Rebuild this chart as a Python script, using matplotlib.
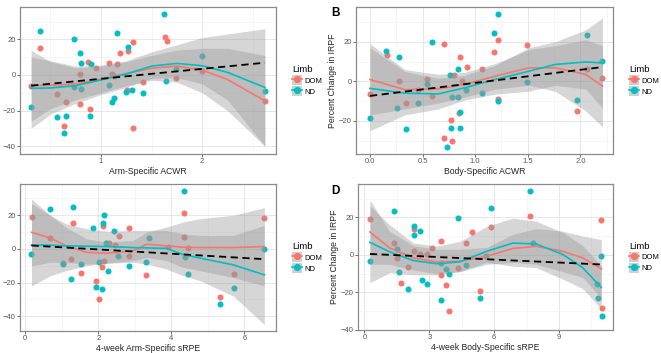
import matplotlib
matplotlib.use("Agg")
import matplotlib.pyplot as plt
from matplotlib.lines import Line2D
from matplotlib.patches import Patch
from matplotlib.ticker import FixedLocator

plt.rcParams["font.family"] = ["Liberation Sans", "DejaVu Sans"]

DOM_COLOR = "#F8766D"
ND_COLOR = "#00BFC4"
RIBBON = "#999999"

# ---- panel A: Arm-Specific ACWR ----
a_dom_x = [0.40, 1.63, 1.65, 1.32, 1.19, 1.27, 0.87, 0.95, 1.08, 1.16, 0.79, 1.11, 1.13,
           0.31, 0.57, 1.42, 1.74, 2.00, 1.26, 0.65, 0.79, 0.89, 0.63, 1.32, 2.62]
a_dom_y = [15.1, 21.3, 19.1, 18.5, 12.5, 13.7, 7.5, 3.7, 6.5, 6.4, 0.6, 0.5, -0.8,
           -6.0, -10.8, -4.1, -1.9, 2.2, -8.4, -15.3, -16.3, -19.1, -28.4, -29.9, -14.8]
a_nd_x = [1.62, 0.40, 0.73, 1.16, 0.79, 1.27, 0.90, 2.00, 1.74, 1.64, 1.08, 0.80, 1.31,
          1.25, 1.42, 1.13, 1.11, 0.31, 0.89, 0.65, 0.57, 0.63, 2.62, 0.73, 0.80]
a_nd_y = [34.2, 24.9, 20.2, 23.6, 12.5, 15.7, 6.2, 10.8, 3.4, -3.4, -5.6, -7.7, -8.2,
          -9.7, -10.3, -13.1, -15.3, -18.1, -23.2, -23.2, -23.7, -32.7, -9.2, -6.5, 6.8]
a_fx = [0.31, 0.5, 0.75, 1.0, 1.25, 1.5, 1.75, 2.0, 2.25, 2.62]
a_dom_fit = [-6.0, -5.8, -5.0, -2.3, 0.8, 3.8, 5.0, 2.8, -2.5, -14.5]
a_dom_lo = [-26, -19, -14, -10, -6, -3, -4, -10, -20, -40]
a_dom_hi = [14, 7.5, 4, 5, 7.5, 11, 14, 15, 15, 11]
a_nd_fit = [-7.5, -7.3, -6.0, -2.8, 0.5, 5.0, 6.5, 5.2, 1.5, -7.0]
a_nd_lo = [-30, -22, -16, -11, -7, -2, -1.5, -5, -14, -40]
a_nd_hi = [10, 8, 5, 5.5, 8, 13, 17, 21, 23, 26]
a_lin_x = [0.31, 2.62]
a_lin_y = [-6.0, 6.9]

# ---- panel B: Body-Specific ACWR ----
b_dom_x = [1.22, 0.70, 1.49, 1.18, 0.16, 0.86, 0.92, 1.06, 0.80, 2.06, 2.21, 0.28, 0.54,
           0.87, 0.00, 0.46, 0.59, 0.34, 1.22, 0.85, 0.77, 1.97, 0.70, 0.78]
b_dom_y = [20.9, 18.7, 18.4, 15.0, 13.5, 12.5, 7.1, 6.1, 3.2, 6.3, 1.8, 0.3, 1.1,
           0.1, -6.6, -4.5, -7.3, -11.2, -8.8, -16.0, -19.6, -15.0, -28.9, -30.2]
b_nd_x = [1.22, 1.18, 2.06, 0.59, 0.15, 0.28, 2.21, 0.84, 0.76, 0.54, 1.49, 0.91, 1.06,
          0.78, 0.84, 0.46, 0.26, 1.22, 1.97, 0.86, 0.00, 0.34, 0.77, 0.86, 0.73]
b_nd_y = [34.1, 24.6, 23.4, 19.9, 15.5, 12.5, 10.4, 6.1, 3.2, -1.4, -0.6, -4.6, -6.1,
          -8.1, -8.1, -10.8, -13.3, -10.1, -9.3, -15.7, -18.7, -24.3, -23.4, -23.8, -33.3]
b_fx = [0.0, 0.33, 0.65, 0.9, 1.19, 1.51, 1.76, 2.05, 2.21]
b_dom_fit = [0.9, -4.2, -3.8, -1.6, 2.6, 6.8, 6.8, 3.5, -2.4]
b_dom_lo = [-17, -14, -11, -8, -4, -2, -5, -15, -23]
b_dom_hi = [19, 6, 3.5, 4.5, 9, 16, 18, 21, 18]
b_nd_fit = [-3.6, -6.0, -6.4, -3.3, 0.9, 5.1, 8.5, 9.8, 9.3]
b_nd_lo = [-25, -17, -14, -9.5, -6.5, -5, -2, -4, -13.5]
b_nd_hi = [17, 5, 1.5, 3, 8, 17, 20, 26, 32]
b_lin_x = [0.0, 2.21]
b_lin_y = [-7.4, 7.2]

# ---- panel C: 4-week Arm-Specific sRPE ----
c_dom_x = [4.34, 0.19, 6.54, 1.30, 2.12, 2.84, 2.56, 0.68, 4.36, 2.29, 2.45, 3.91, 4.47,
           2.83, 1.24, 2.16, 1.04, 2.10, 1.54, 3.30, 5.73, 1.95, 2.03, 5.33]
c_dom_y = [21.2, 19.2, 18.6, 15.2, 13.9, 12.7, 7.7, 6.5, 6.9, 3.7, 2.4, 1.4, 0.8,
           -4.0, -5.9, -6.9, -8.3, -10.9, -14.4, -15.8, -15.0, -19.0, -29.7, -28.3]
c_nd_x = [4.34, 0.68, 1.30, 2.15, 2.12, 1.86, 2.43, 3.39, 2.21, 0.17, 6.55, 2.55, 4.37,
          3.31, 2.02, 1.04, 1.54, 2.83, 2.26, 4.47, 1.24, 1.95, 2.10, 5.73, 5.33]
c_nd_y = [34.4, 23.5, 25.1, 20.2, 15.5, 12.7, 10.9, 6.3, 3.4, -3.2, -0.2, -4.2, -5.1,
          -7.5, -7.9, -9.1, -9.1, -10.1, -12.9, -15.0, -18.0, -22.9, -24.0, -23.3, -32.6]
c_fx = [0.17, 0.68, 1.1, 1.68, 2.23, 2.96, 3.33, 3.87, 4.33, 4.8, 5.7, 6.55]
c_dom_fit = [9.9, 6.5, 2.0, -2.0, -2.6, -1.2, 2.8, 1.8, 1.0, 0.8, 0.8, 1.4]
c_dom_lo = [-10, -8, -8, -9, -8.5, -7, -5, -7, -11, -13, -17, -22]
c_dom_hi = [29.7, 20, 13, 6, 4, 5, 10, 13, 16, 18, 20, 24.5]
c_nd_fit = [2.4, 2.2, 1.8, 1.6, 1.4, 0.8, 0.6, 0.3, -3.4, -5.5, -9.5, -15.4]
c_nd_lo = [-22, -16, -13, -10, -8.5, -8, -9, -12, -16, -19, -28, -45]
c_nd_hi = [27, 20, 15, 12, 10.5, 11, 11, 11, 9, 8, 8, 14]
c_lin_x = [0.17, 6.55]
c_lin_y = [2.0, -6.1]

# ---- panel D: 4-week Body-Specific sRPE ----
d_dom_x = [7.64, 0.25, 10.96, 5.87, 2.29, 4.98, 3.56, 4.68, 1.37, 3.14, 2.29, 2.56, 2.91,
           1.52, 2.02, 4.33, 3.56, 1.68, 3.79, 5.33, 3.91, 10.97]
d_dom_y = [20.8, 18.9, 18.5, 14.6, 13.8, 12.3, 7.6, 6.2, 6.3, 3.6, 1.9, 0.7, 0.5,
           -1.7, -6.3, -6.8, -10.6, -14.8, -16.1, -19.2, -29.8, -28.4]
d_nd_x = [7.64, 5.87, 1.37, 4.33, 2.29, 2.56, 2.29, 7.80, 1.52, 0.25, 10.96, 5.61, 4.68,
          3.56, 3.79, 3.91, 1.59, 2.67, 2.91, 2.02, 10.77, 3.53, 5.33, 10.80, 10.97]
d_nd_y = [34.0, 24.9, 23.6, 19.6, 15.5, 12.5, 10.8, 6.3, 3.2, -3.3, -0.5, -0.4, -5.6,
          -4.3, -7.6, -10.1, -9.3, -13.3, -15.7, -18.4, -15.7, -24.0, -23.1, -23.2, -32.7]
d_fx = [0.25, 1.17, 2.25, 3.33, 4.41, 5.65, 6.87, 7.95, 9.18, 10.1, 10.96]
d_dom_fit = [12.2, 3.7, -1.6, -3.7, -3.4, -0.7, 3.4, 4.6, 1.9, -1.6, -7.4]
d_dom_lo = [-5, -5, -8, -10, -9, -5, -4, -5, -9, -12, -23]
d_dom_hi = [29.3, 12.5, 5, 3, 3, 4, 11, 14, 12.6, 10, 8.2]
d_nd_fit = [6.7, 1.6, -3.0, -4.7, -3.7, 1.9, 6.3, 5.8, 0.2, -6.8, -17.4]
d_nd_lo = [-14.8, -9.5, -10.6, -10.6, -8.8, -4, -6, -6.8, -12.9, -18, -28.8]
d_nd_hi = [26, 16, 6.4, 4.6, 7.2, 15.2, 19.6, 17.9, 12, 5, -6]
d_lin_x = [0.25, 10.96]
d_lin_y = [0.5, -5.1]

x_titles = ["Arm-Specific ACWR", "Body-Specific ACWR",
            "4-week Arm-Specific sRPE", "4-week Body-Specific sRPE"]
y_title = "Percent Change in IRPF"
limb_labels = ["DOM", "ND"]


def draw_panel(ax, dom_x, dom_y, nd_x, nd_y, fx, dom_fit, dom_lo, dom_hi,
               nd_fit, nd_lo, nd_hi, lin_x, lin_y):
    ax.scatter(dom_x, dom_y, s=19, color=DOM_COLOR, linewidths=0, zorder=2)
    ax.scatter(nd_x, nd_y, s=19, color=ND_COLOR, linewidths=0, zorder=2)
    ax.fill_between(fx, dom_lo, dom_hi, color=RIBBON, alpha=0.4, lw=0, zorder=3)
    ax.plot(fx, dom_fit, color=DOM_COLOR, lw=1.2, zorder=4)
    ax.fill_between(fx, nd_lo, nd_hi, color=RIBBON, alpha=0.4, lw=0, zorder=3)
    ax.plot(fx, nd_fit, color=ND_COLOR, lw=1.2, zorder=4)
    ax.plot(lin_x, lin_y, color="black", lw=1.3, ls=(0, (4, 2.5)), zorder=5)


def style_axes(ax, xlim, ylim, xmaj, xmin, ymaj, ymin, xfmt="{:g}"):
    ax.set_xlim(*xlim)
    ax.set_ylim(*ylim)
    ax.xaxis.set_major_locator(FixedLocator(xmaj))
    ax.xaxis.set_minor_locator(FixedLocator(xmin))
    ax.set_xticklabels([xfmt.format(v) for v in xmaj])
    ax.yaxis.set_major_locator(FixedLocator(ymaj))
    ax.yaxis.set_minor_locator(FixedLocator(ymin))
    ax.grid(which="major", color="#E3E3E3", lw=0.6, zorder=0)
    ax.grid(which="minor", color="#F0F0F0", lw=0.4, zorder=0)
    ax.set_axisbelow(True)
    for s in ax.spines.values():
        s.set_color("#8A8A8A")
        s.set_linewidth(0.9)
    ax.tick_params(which="major", length=2, width=0.6, color="#555555",
                   labelsize=5.5, labelcolor="#555555", pad=1.2)
    ax.tick_params(which="minor", length=0)


def add_legend(ax):
    handles = [(Patch(facecolor="#D0D0D0", edgecolor="none"),
                Line2D([], [], color=c, lw=1.2, marker="o", markersize=4.2))
               for c in (DOM_COLOR, ND_COLOR)]
    leg = ax.legend(handles, limb_labels, title="Limb", loc="center left",
                    bbox_to_anchor=(1.05, 0.5), frameon=False, fontsize=5.5,
                    title_fontsize=6.8, handlelength=1.3, handleheight=1.6,
                    handletextpad=0.3, labelspacing=0.15, borderaxespad=0)
    leg._legend_box.align = "left"


fig = plt.figure(figsize=(6.61, 3.53), dpi=100)
fig.patch.set_facecolor("white")

ax_a = fig.add_axes([20 / 661, 1 - 154 / 353, 256 / 661, 147 / 353])
ax_b = fig.add_axes([356 / 661, 1 - 154 / 353, 257 / 661, 147 / 353])
ax_c = fig.add_axes([20 / 661, 1 - 331 / 353, 256 / 661, 146.7 / 353])
ax_d = fig.add_axes([358 / 661, 1 - 330 / 353, 255 / 661, 145.7 / 353])

draw_panel(ax_a, a_dom_x, a_dom_y, a_nd_x, a_nd_y, a_fx, a_dom_fit, a_dom_lo,
           a_dom_hi, a_nd_fit, a_nd_lo, a_nd_hi, a_lin_x, a_lin_y)
style_axes(ax_a, (0.2, 2.73), (-44.4, 38.2), [1, 2], [0.5, 1.5, 2.5],
           [-40, -20, 0, 20], [-30, -10, 10, 30])

draw_panel(ax_b, b_dom_x, b_dom_y, b_nd_x, b_nd_y, b_fx, b_dom_fit, b_dom_lo,
           b_dom_hi, b_nd_fit, b_nd_lo, b_nd_hi, b_lin_x, b_lin_y)
style_axes(ax_b, (-0.133, 2.31), (-36.8, 37.6), [0, 0.5, 1, 1.5, 2],
           [0.25, 0.75, 1.25, 1.75, 2.25], [-20, 0, 20], [-30, -10, 10, 30],
           xfmt="{:.1f}")

draw_panel(ax_c, c_dom_x, c_dom_y, c_nd_x, c_nd_y, c_fx, c_dom_fit, c_dom_lo,
           c_dom_hi, c_nd_fit, c_nd_lo, c_nd_hi, c_lin_x, c_lin_y)
style_axes(ax_c, (-0.145, 6.87), (-48.8, 38.4), [0, 2, 4, 6], [1, 3, 5],
           [-40, -20, 0, 20], [-30, -10, 10, 30])

draw_panel(ax_d, d_dom_x, d_dom_y, d_nd_x, d_nd_y, d_fx, d_dom_fit, d_dom_lo,
           d_dom_hi, d_nd_fit, d_nd_lo, d_nd_hi, d_lin_x, d_lin_y)
style_axes(ax_d, (-0.3, 11.5), (-40, 37.6), [0, 3, 6, 9], [1.5, 4.5, 7.5, 10.5],
           [-40, -20, 0, 20], [-30, -10, 10, 30])

for ax, title in zip([ax_a, ax_b, ax_c, ax_d], x_titles):
    ax.set_xlabel(title, fontsize=6.2, color="#222222", labelpad=1)
    ax.set_ylabel(y_title, fontsize=6.2, color="#222222", labelpad=1.5)
    add_legend(ax)

fig.text(331 / 661, 1 - 13 / 353, "B", fontsize=8.5, fontweight="bold", va="center")
fig.text(331 / 661, 1 - 191 / 353, "D", fontsize=8.5, fontweight="bold", va="center")

fig.savefig("out.png", dpi=100)
